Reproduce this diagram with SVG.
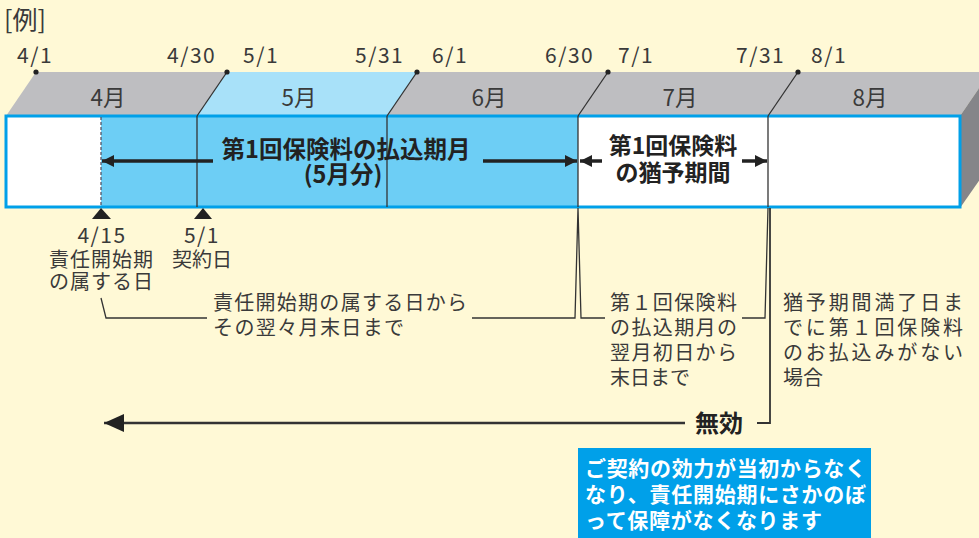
<svg xmlns="http://www.w3.org/2000/svg" width="979" height="538" viewBox="0 0 979 538">
<style>
text{font-family:"Noto Sans CJK JP","Noto Sans",sans-serif;fill:#3a3a3a}
.d{font-size:21px;letter-spacing:1.5px}
.m{font-size:22.5px;text-anchor:middle}
.l{font-size:20px}
.b{font-weight:bold;fill:#222}
.w{font-weight:bold;fill:#fff;font-size:21px}
.ln{stroke:#333;stroke-width:1.3;fill:none}
.ar{stroke:#222;stroke-width:3.5;fill:none}
</style>
<defs>
<marker id="ah" markerUnits="userSpaceOnUse" markerWidth="14" markerHeight="14" refX="12" refY="6" orient="auto">
<path d="M0,0 L12,6 L0,12 Z" fill="#222"/>
</marker>
<marker id="ahb" markerUnits="userSpaceOnUse" markerWidth="22" markerHeight="20" refX="20" refY="9" orient="auto">
<path d="M0,0 L20,9 L0,18 Z" fill="#222"/>
</marker>
</defs>
<rect width="979" height="538" fill="#FFF9D6"/>
<text x="4" y="29" style="font-size:25px">[例]</text>

<g id="timeline">
<polygon points="6,116 36,72 990,72 960,116" fill="#BEBEC1"/>
<polygon points="197,116 227,72 417,72 387,116" fill="#A8E1F9"/>
<polygon points="960,116 990,72 990,165 960,208" fill="#858589"/>
<rect x="6" y="116" width="954" height="91" fill="#fff"/>
<rect x="101" y="116" width="477" height="91" fill="#6DCEF5"/>
<rect x="6" y="116" width="954" height="91" fill="none" stroke="#00A0E9" stroke-width="3"/>
<g class="ln">
<line x1="227" y1="72" x2="197" y2="116"/>
<line x1="417" y1="72" x2="387" y2="116"/>
<line x1="608" y1="72" x2="578" y2="116"/>
<line x1="798" y1="72" x2="768" y2="116"/>
<line x1="197" y1="116" x2="197" y2="207"/>
<line x1="387" y1="116" x2="387" y2="207"/>
<line x1="578" y1="116" x2="578" y2="207"/>
<line x1="768" y1="116" x2="768" y2="207"/>
<line x1="101" y1="117" x2="101" y2="207" stroke="#556" stroke-dasharray="3,2"/>
</g>
<g fill="#222">
<circle cx="36" cy="72" r="2.6"/>
<circle cx="227" cy="72" r="2.6"/>
<circle cx="417" cy="72" r="2.6"/>
<circle cx="608" cy="72" r="2.6"/>
<circle cx="798" cy="72" r="2.6"/>
</g>
<g class="d">
<text x="17" y="63">4/1</text>
<text x="167" y="63">4/30</text>
<text x="243" y="63">5/1</text>
<text x="355" y="63">5/31</text>
<text x="432" y="63">6/1</text>
<text x="545" y="63">6/30</text>
<text x="618" y="63">7/1</text>
<text x="736" y="63">7/31</text>
<text x="811" y="63">8/1</text>
</g>
<g class="m">
<text x="108" y="106">4月</text>
<text x="299" y="106">5月</text>
<text x="489" y="106">6月</text>
<text x="680" y="106">7月</text>
<text x="870" y="106">8月</text>
</g>
</g>

<g id="payment-period">
<text class="b" x="346" y="158" text-anchor="middle" style="font-size:23.5px">第1回保険料の払込期月</text>
<text class="b" x="343" y="183" text-anchor="middle" style="font-size:23.5px">(5月分)</text>
</g>
<g id="grace-period">
<text class="b" x="673" y="154" text-anchor="middle" style="font-size:23px">第1回保険料</text>
<text class="b" x="673" y="181" text-anchor="middle" style="font-size:23px">の猶予期間</text>
</g>

<g id="start-date">
<polygon points="101,208 92,219 111,219" fill="#222"/>
<text class="m" x="102" y="243" style="font-size:21px;letter-spacing:1.5px">4/15</text>
<text class="l" x="49" y="267" textLength="104">責任開始期</text>
<text class="l" x="49" y="289" textLength="104">の属する日</text>
</g>
<g id="contract-date">
<polygon points="203,208 194,219 212,219" fill="#222"/>
<text class="m" x="202" y="243" style="font-size:21px;letter-spacing:1.5px">5/1</text>
<text class="m" x="202" y="267" style="font-size:20px">契約日</text>
</g>

<g id="note-payment">
<text class="l" x="213" y="310" textLength="254">責任開始期の属する日から</text>
<text class="l" x="213" y="335" textLength="191">その翌々月末日まで</text>
</g>
<g id="note-grace">
<text class="l" x="610" y="310" textLength="127">第１回保険料</text>
<text class="l" x="610" y="335" textLength="127">の払込期月の</text>
<text class="l" x="610" y="360" textLength="127">翌月初日から</text>
<text class="l" x="610" y="385">末日まで</text>
</g>
<g id="note-expiry">
<text class="l" x="783" y="310" textLength="180">猶予期間満了日ま</text>
<text class="l" x="783" y="335" textLength="180">でに第１回保険料</text>
<text class="l" x="783" y="360" textLength="180">のお払込みがない</text>
<text class="l" x="783" y="385">場合</text>
</g>

<g id="invalid">
<text class="b" x="695" y="432" style="font-size:24px">無効</text>
</g>
<g id="result">
<rect x="578" y="448" width="293" height="90" fill="#00A0E9"/>
<text class="w" x="585" y="476" textLength="281">ご契約の効力が当初からなく</text>
<text class="w" x="585" y="502" textLength="281">なり、責任開始期にさかのぼ</text>
<text class="w" x="585" y="528" textLength="237">って保障がなくなります</text>
</g>

<g id="connectors">
<line class="ar" x1="213" y1="161" x2="102" y2="161" marker-end="url(#ah)"/>
<line class="ar" x1="483" y1="161" x2="577" y2="161" marker-end="url(#ah)"/>
<line class="ar" x1="602" y1="161" x2="580" y2="161" marker-end="url(#ah)"/>
<line class="ar" x1="742" y1="161" x2="767" y2="161" marker-end="url(#ah)"/>
<polyline class="ln" points="101,298 106,318 207,318"/>
<polyline class="ln" points="472,318 575,318 578,208 581,318 605,318"/>
<polyline class="ln" points="742,318 765,318 768,208"/>
<polyline class="ln" points="757,423 770,423 770,208" style="stroke-width:1.8"/>
<line x1="685" y1="423" x2="104" y2="423" stroke="#333" stroke-width="2.5" marker-end="url(#ahb)"/>
</g>
</svg>
